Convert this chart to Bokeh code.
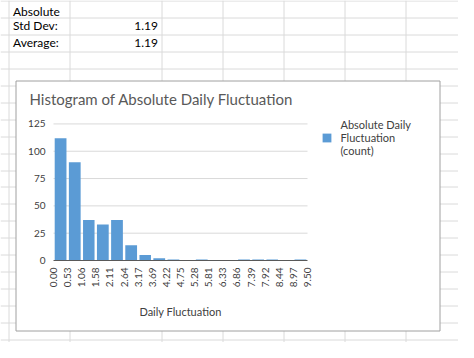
import numpy as np
from bokeh.plotting import figure
from bokeh.models import Range1d, Legend, LegendItem, ColumnDataSource
from bokeh.core.properties import value
from bokeh.embed import file_html
from bokeh.resources import INLINE

# ---------------- data ----------------
edge_labels = ["0.00", "0.53", "1.06", "1.58", "2.11", "2.64", "3.17", "3.69", "4.22", "4.75",
               "5.28", "5.81", "6.33", "6.86", "7.39", "7.92", "8.44", "8.97", "9.50"]
counts = [112, 90, 37, 33, 37, 14, 5, 2, 1, 0, 1, 0, 0, 1, 1, 1, 0, 1]
y_ticks = [0, 25, 50, 75, 100, 125]
header_text = "Absolute"
cell_names = ["Std Dev:", "Average:"]
cell_values = ["1.19", "1.19"]
chart_title = "Histogram of Absolute Daily Fluctuation"
x_title = "Daily Fluctuation"
series_label = "Absolute Daily\nFluctuation\n(count)"

edges = [float(s) for s in edge_labels]

# ---------------- layout constants (pixels) ----------------
FONT = "Lato"
W, H = 458, 342
FL, FR, FT, FB = 53, 307, 123, 260      # plot area of the chart
X_MAX = edges[-1]
Y_TOP = 125.4
BAR = "#5b9bd5"
SHEET_GRID = "#dadada"
TXT = "#404040"


def dx(X):
    return (X - FL) / (FR - FL) * X_MAX


def dy(Y):
    return (FB - Y) / (FB - FT) * Y_TOP


p = figure(width=W, height=H, output_backend="svg", toolbar_location=None,
           x_range=Range1d(dx(0), dx(W)), y_range=Range1d(dy(H), dy(0)),
           x_axis_type=None, y_axis_type=None, min_border=0,
           background_fill_color="white", border_fill_color="white",
           outline_line_color=None)
p.grid.visible = False

# ---------------- spreadsheet background ----------------
cols = [8.5, 69.5, 161.5, 222.5, 283.5, 344.5, 405.5]
rows = [float(np.floor(0.7 + 16.93 * k)) + 0.5 for k in range(0, 21)]
p.segment(x0=dx(0), x1=dx(W), y0=[dy(r) for r in rows], y1=[dy(r) for r in rows],
          line_color=SHEET_GRID, line_width=1)
p.segment(x0=[dx(c) for c in cols], x1=[dx(c) for c in cols], y0=dy(0), y1=dy(H),
          line_color=SHEET_GRID, line_width=1)

cell_style = dict(text_font=value(FONT), text_font_size="12px", text_color="black",
                  text_baseline="middle")
p.text(x=[dx(12.5)], y=[dy(10.8)], text=[header_text], text_align="left", **cell_style)
p.text(x=[dx(12.5)] * len(cell_names), y=[dy(25.3 + 17 * i) for i in range(len(cell_names))],
       text=cell_names, text_align="left", **cell_style)
p.text(x=[dx(157.5)] * len(cell_values), y=[dy(25.3 + 17 * i) for i in range(len(cell_values))],
       text=cell_values, text_align="right", **cell_style)

# chart area
BL, BR, BT, BB = 15.5, 439.5, 80.5, 330.5
p.quad(left=[dx(BL)], right=[dx(BR)], top=[dy(BT)], bottom=[dy(BB)],
       fill_color="white", line_color="#a0a0a0", line_width=1)

# ---------------- histogram ----------------
p.segment(x0=0, x1=X_MAX, y0=y_ticks[1:], y1=y_ticks[1:], line_color="#d9d9d9", line_width=1)

gap = 1.2 / (FR - FL) * X_MAX
src = ColumnDataSource(dict(left=[e + gap for e in edges[:-1]],
                            right=[e - gap for e in edges[1:]],
                            top=counts))
r = p.quad(left="left", right="right", bottom=0, top="top", source=src,
           fill_color=BAR, line_color=None)

p.segment(x0=[0], x1=[X_MAX], y0=[0], y1=[0], line_color="#595959", line_width=1)

tick_style = dict(text_font=value(FONT), text_font_size="10px", text_color=TXT)
p.text(x=0, y=y_ticks, text=[str(t) for t in y_ticks], x_offset=-8,
       text_align="right", text_baseline="middle", **tick_style)
p.text(x=edges, y=0, text=edge_labels, angle=np.pi / 2, y_offset=7,
       text_align="right", text_baseline="middle", **tick_style)

p.text(x=[X_MAX / 2], y=[dy(311)], text=[x_title], text_align="center", text_baseline="middle",
       text_font=value(FONT), text_font_size="11px", text_color=TXT)
p.text(x=[dx(29)], y=[dy(98.5)], text=[chart_title], text_align="left", text_baseline="middle",
       text_font=value(FONT), text_font_size="15px", text_color="#595959")

# ---------------- legend ----------------
legend = Legend(items=[LegendItem(label=series_label, renderers=[r])],
                location=(320.5, H - 117.5 - 35.5 - 3.5),
                border_line_color=None, background_fill_alpha=0,
                padding=0, margin=0, spacing=0,
                glyph_width=11, glyph_height=11, label_standoff=9,
                label_height=11, label_text_font=FONT, label_text_font_size="11px",
                label_text_color=TXT, label_text_line_height=0.95)
p.add_layout(legend)

open("out.html", "w").write(file_html(p, INLINE))
